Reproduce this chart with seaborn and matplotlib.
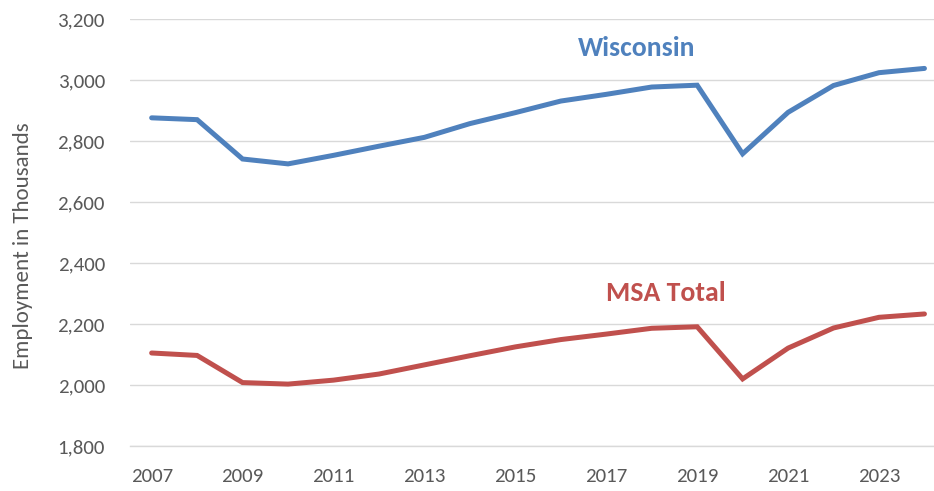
import matplotlib
matplotlib.use("Agg")
import matplotlib.pyplot as plt
import seaborn as sns
import pandas as pd
from matplotlib.ticker import FuncFormatter

years = list(range(2007, 2025))
wisconsin = [2876, 2870, 2741, 2725, 2753, 2783, 2812, 2857, 2893, 2931, 2953, 2977, 2983, 2758, 2894, 2982, 3024, 3038]
msa_total = [2105, 2097, 2008, 2003, 2016, 2036, 2066, 2096, 2125, 2149, 2167, 2186, 2191, 2020, 2121, 2187, 2222, 2233]
series_names = ["Wisconsin", "MSA Total"]
x_ticks = list(range(2007, 2024, 2))
y_ticks = list(range(1800, 3201, 200))

df = pd.DataFrame({
    "Year": years * 2,
    "Employment": wisconsin + msa_total,
    "Series": [series_names[0]] * len(years) + [series_names[1]] * len(years),
})

sns.set_theme(style="white")
plt.rcParams["font.family"] = ["Carlito", "Lato", "DejaVu Sans"]

fig = plt.figure(figsize=(9.34, 4.91), dpi=100)
ax = fig.add_axes([0.139, 0.0916, 0.861, 0.8697])

palette = {"Wisconsin": "#4F81BD", "MSA Total": "#C0504D"}
sns.lineplot(data=df, x="Year", y="Employment", hue="Series", palette=palette,
             linewidth=3.6, ax=ax, legend=False, solid_capstyle="round",
             solid_joinstyle="miter")

ax.set_xlim(2006.52, 2024.21)
ax.set_ylim(1800, 3200)
ax.set_xticks(x_ticks)
ax.set_yticks(y_ticks)
ax.yaxis.set_major_formatter(FuncFormatter(lambda v, p: f"{int(v):,}"))
ax.grid(axis="y", color="#D9D9D9", linewidth=1.0)
ax.set_axisbelow(True)
for s in ["top", "right", "left"]:
    ax.spines[s].set_visible(False)
ax.spines["bottom"].set_color("#D9D9D9")
ax.spines["bottom"].set_linewidth(1.0)
ax.tick_params(axis="both", length=0, labelsize=15, colors="#595959")
ax.tick_params(axis="y", pad=18)
ax.tick_params(axis="x", pad=16)
ax.set_xlabel("")
ax.set_ylabel("Employment in Thousands", fontsize=16.5, color="#595959")
ax.yaxis.set_label_coords(-0.12, 0.47)

ax.text(2017.66, 3105, "Wisconsin", color="#4F81BD", fontsize=20, fontweight="bold",
        ha="center", va="center")
ax.text(2018.3, 2303, "MSA Total", color="#C0504D", fontsize=20, fontweight="bold",
        ha="center", va="center")

fig.savefig("out.png", dpi=100)
